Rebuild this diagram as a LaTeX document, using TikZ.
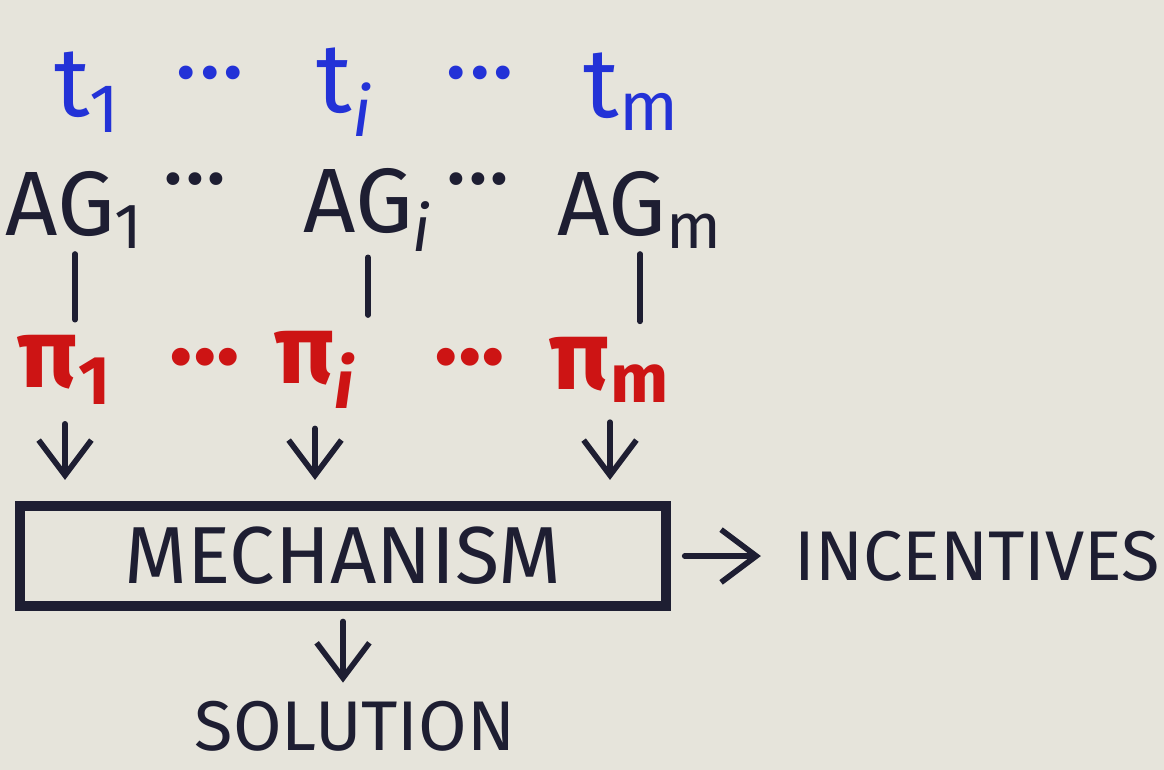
\documentclass[tikz,border=0pt]{standalone}
\usepackage{fontspec}
\setmainfont{Fira Sans}
\usetikzlibrary{positioning,arrows.meta}
\definecolor{paper}{RGB}{230,228,219}
\definecolor{penblue}{RGB}{35,50,215}
\definecolor{penred}{RGB}{205,20,20}
\definecolor{penink}{RGB}{30,30,50}

\begin{document}
\begin{tikzpicture}[x=0.01cm,y=-0.01cm,
  typ/.style={text=penblue, font=\fontsize{28}{32}\selectfont},
  agent/.style={text=penink, font=\fontsize{26}{30}\selectfont},
  rep/.style={text=penred, font=\bfseries\fontsize{28}{32}\selectfont},
  ink/.style={draw=penink, line width=1.6pt, line cap=round},
  tip/.style={ink, -{Straight Barb[length=10pt,width=15pt]}},
  caps/.style={text=penink, font=\fontsize{20}{24}\selectfont}]
\fill[paper] (0,0) rectangle (1164,770);
\useasboundingbox (0,0) rectangle (1164,770);

% types
\node[typ] (t1) at (88,92) {t\textsubscript{1}};
\node[typ] (tdots1) at (210,85) {···};
\node[typ] (ti) at (345,92) {t\textsubscript{\itshape i}};
\node[typ] (tdots2) at (480,85) {···};
\node[typ] (tm) at (632,92) {t\textsubscript{m}};

% agents
\node[agent] (ag1) at (75,210) {AG\textsubscript{1}};
\node[agent] (agdots1) at (195,190) {···};
\node[agent] (agi) at (368,210) {AG\textsubscript{\itshape i}};
\node[agent] (agdots2) at (478,190) {···};
\node[agent] (agm) at (640,210) {AG\textsubscript{m}};

% reports
\node[rep] (p1) at (65,370) {π\textsubscript{1}};
\node[rep] (pdots1) at (205,368) {···};
\node[rep] (pi) at (315,370) {π\textsubscript{\itshape i}};
\node[rep] (pdots2) at (470,368) {···};
\node[rep] (pm) at (610,370) {π\textsubscript{m}};

\draw[ink, shorten <=-2pt, shorten >=1pt] (ag1.south) -- (ag1.south |- p1.north);
\draw[ink, shorten <=-2pt, shorten >=1pt] (agi.south) -- (agi.south |- pi.north);
\draw[ink, shorten <=-2pt, shorten >=1pt] (agm.south) -- (agm.south |- pm.north);

% mechanism
\node[draw=penink, line width=2.8pt, minimum width=6.45cm, minimum height=1cm, text=penink, font=\fontsize{23}{27}\selectfont] (mech) at (343,556) {MECHANISM};

\draw[tip, shorten <=2pt, shorten >=6pt] (p1.south) -- (p1.south |- mech.north);
\draw[tip, shorten <=2pt, shorten >=6pt] (pi.south) -- (pi.south |- mech.north);
\draw[tip, shorten <=2pt, shorten >=6pt] (pm.south) -- (pm.south |- mech.north);

\node[caps, anchor=west] (inc) at (782,556) {INCENTIVES};
\draw[tip, shorten <=4pt, shorten >=6pt] (mech.east) -- (inc.west);

\node[caps, inner sep=1pt] (sol) at (355,726) {SOLUTION};
\draw[tip, shorten <=3pt, shorten >=4pt] (mech.south) -- (mech.south |- sol.north);
\end{tikzpicture}
\end{document}
